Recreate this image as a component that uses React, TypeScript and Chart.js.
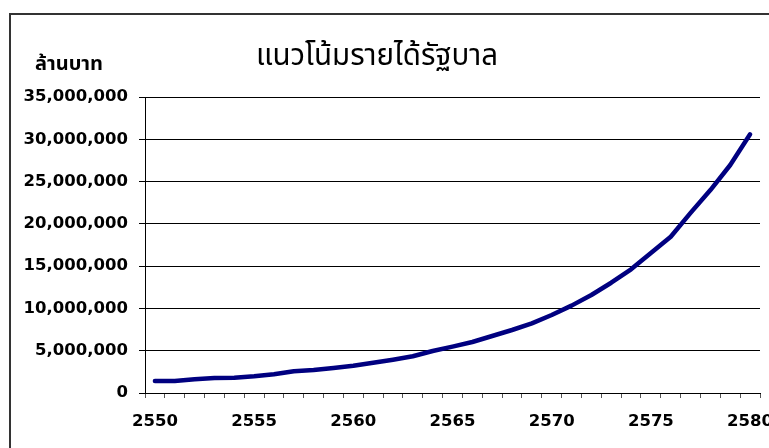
import React, { useEffect, useRef } from "react";
import { Chart, registerables } from "chart.js";

Chart.register(...registerables);

const years: string[] = [
  "2550", "2551", "2552", "2553", "2554", "2555", "2556", "2557", "2558", "2559",
  "2560", "2561", "2562", "2563", "2564", "2565", "2566", "2567", "2568", "2569",
  "2570", "2571", "2572", "2573", "2574", "2575", "2576", "2577", "2578", "2579", "2580",
];

const revenue: number[] = [
  1420000, 1420000, 1620000, 1770000, 1810000, 1970000, 2210000, 2570000, 2720000, 2960000,
  3230000, 3580000, 3940000, 4340000, 4970000, 5480000, 6030000, 6740000, 7450000, 8240000,
  9220000, 10330000, 11590000, 13040000, 14620000, 16550000, 18480000, 21300000, 24000000, 26960000, 30590000,
];

const chartTitle = "แนวโน้มรายได้รัฐบาล";
const unitLabel = "ล้านบาท";

const framePlugin = {
  id: "frameAndTexts",
  afterDraw(chart: any) {
    const ctx = chart.ctx as CanvasRenderingContext2D;
    ctx.save();
    ctx.strokeStyle = "#333";
    ctx.lineWidth = 2;
    ctx.beginPath();
    ctx.moveTo(10, 448);
    ctx.lineTo(10, 14);
    ctx.lineTo(769, 14);
    ctx.stroke();

    ctx.fillStyle = "#000";
    ctx.textAlign = "center";
    ctx.textBaseline = "alphabetic";
    ctx.font = '29.5px "Noto Sans Thai", "Tahoma", "DejaVu Sans", sans-serif';
    ctx.fillText(chartTitle, 377, 65);

    ctx.font = 'bold 20px "Noto Sans Thai", "Tahoma", "DejaVu Sans", sans-serif';
    ctx.fillText(unitLabel, 69, 70);
    ctx.restore();
  },
};

export default function App() {
  const ref = useRef<HTMLCanvasElement | null>(null);

  useEffect(() => {
    const canvas = ref.current;
    if (!canvas) return;
    const tickFont = { family: '"DejaVu Sans", sans-serif', size: 16.5, weight: "bold" as const };
    const chart = new Chart(canvas, {
      type: "line",
      data: {
        labels: years,
        datasets: [
          {
            data: revenue,
            borderColor: "#000080",
            borderWidth: 4.5,
            borderCapStyle: "round",
            borderJoinStyle: "round",
            pointRadius: 0,
            tension: 0,
            fill: false,
          },
        ],
      },
      options: {
        animation: false,
        responsive: false,
        maintainAspectRatio: false,
        layout: { padding: { left: 0, right: 9, top: 97, bottom: 0 } },
        plugins: {
          legend: { display: false },
          title: { display: false },
          tooltip: { enabled: false },
        },
        scales: {
          x: {
            type: "category",
            offset: true,
            grid: {
              offset: true,
              drawOnChartArea: false,
              drawTicks: true,
              tickLength: 5,
              color: "#555",
            },
            border: { display: true, color: "#000", width: 1 },
            ticks: {
              autoSkip: false,
              maxRotation: 0,
              minRotation: 0,
              padding: 14,
              color: "#000",
              font: tickFont,
              callback: (_v: any, i: number) => (Number(years[i]) % 5 === 0 ? years[i] : ""),
            },
            afterFit: (scale: any) => {
              scale.height = 55;
              scale.paddingRight = 0;
              scale.paddingLeft = 0;
            },
          },
          y: {
            min: 0,
            max: 35000000,
            grid: {
              color: "#000",
              lineWidth: 1,
              drawTicks: true,
              tickLength: 6,
            },
            border: { display: true, color: "#000", width: 1 },
            ticks: {
              stepSize: 5000000,
              padding: 11,
              color: "#000",
              font: tickFont,
              callback: (v: any) => Number(v).toLocaleString("en-US"),
            },
            afterFit: (scale: any) => {
              scale.width = 145;
            },
          },
        },
      },
      plugins: [framePlugin],
    });
    return () => chart.destroy();
  }, []);

  return (
    <div style={{ position: "fixed", left: 0, top: 0, width: 769, height: 448, background: "#fff" }}>
      <canvas ref={ref} width={769} height={448} style={{ display: "block" }} />
    </div>
  );
}
